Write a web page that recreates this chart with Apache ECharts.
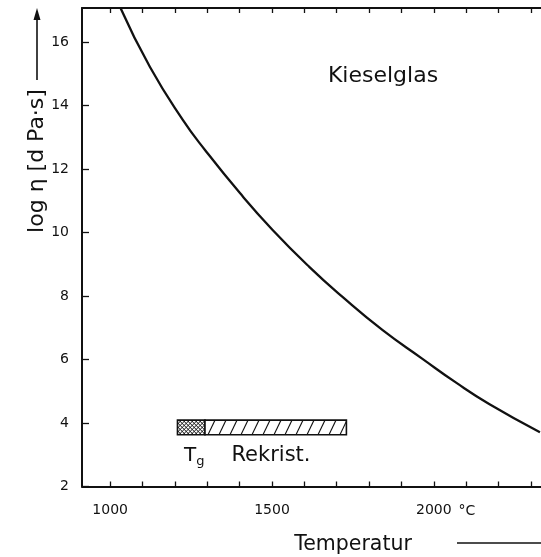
<!DOCTYPE html>
<html><head><meta charset="utf-8">
<script src="https://cdn.jsdelivr.net/npm/echarts@6/dist/echarts.min.js"></script>
<style>html,body{margin:0;padding:0;background:#fff}#c{width:541px;height:557px}</style>
</head><body><div id="c"></div>
<script>
// Viscosity curve of Kieselglas
const temperature  = [1032, 1123, 1225, 1293, 1401, 1502, 1616, 1718, 1841, 1965, 2069, 2171, 2328];
const logViscosity = [17.07, 15.21, 13.54, 12.6, 11.24, 10.08, 8.91, 7.97, 6.93, 6.02, 5.27, 4.6, 3.71];
// Ranges drawn as boxes: [T start, T end, log eta low, log eta high]
const rangeNames = ['Tg', 'Rekrist.'];
const rangeStart = [1208, 1293];
const rangeEnd   = [1293, 1730];
const rangeLow   = [3.63, 3.63];
const rangeHigh  = [4.09, 4.09];
// Axes
const xMin = 913, xMax = 2390;
const yMin = 2, yMax = 17.07;
const xTicks = [1000, 1100, 1200, 1300, 1400, 1500, 1600, 1700, 1800, 1900, 2000, 2100, 2200, 2300];
const xLabels = [1000, 1500, 2000];
const yTicks = [2, 4, 6, 8, 10, 12, 14, 16];

const FONT = 'DejaVu Sans';
const chart = echarts.init(document.getElementById('c'), null, {renderer: 'canvas'});

const curve = temperature.map((t, i) => [t, logViscosity[i]]);
const ranges = rangeNames.map((n, i) => [rangeStart[i], rangeEnd[i], rangeLow[i], rangeHigh[i]]);

function renderBox(params, api) {
  const p0 = api.coord([api.value(0), api.value(3)]);
  const p1 = api.coord([api.value(1), api.value(2)]);
  const x = p0[0], y = p0[1], w = p1[0] - p0[0], h = p1[1] - p0[1];
  const lines = [];
  const ls = {stroke: '#111', lineWidth: 1};
  if (params.dataIndex === 0) {
    for (let xs = x - h; xs < x + w + h; xs += 4) {
      lines.push({type: 'line', shape: {x1: xs, y1: y + h, x2: xs + h, y2: y}, style: ls});
      lines.push({type: 'line', shape: {x1: xs, y1: y, x2: xs + h, y2: y + h}, style: ls});
    }
  } else {
    for (let xs = x - 8; xs < x + w + 8; xs += 11) {
      lines.push({type: 'line', shape: {x1: xs, y1: y + h, x2: xs + 7, y2: y}, style: {stroke: '#111', lineWidth: 1.1}});
    }
  }
  return {
    type: 'group',
    children: [
      {type: 'rect', shape: {x, y, width: w, height: h}, style: {fill: '#fff'}},
      {type: 'group', children: lines, clipPath: {type: 'rect', shape: {x, y, width: w, height: h}}},
      {type: 'rect', shape: {x, y, width: w, height: h}, style: {fill: null, stroke: '#111', lineWidth: 1.6}}
    ]
  };
}

const axisCommon = {
  type: 'value',
  axisLine: {show: true, onZero: false, lineStyle: {color: '#111', width: 2}},
  splitLine: {show: false}
};

chart.setOption({
  animation: false,
  backgroundColor: '#fff',
  grid: {left: 82, width: 478, top: 8, height: 478.5, containLabel: false, outerBoundsMode: 'none'},
  xAxis: [
    Object.assign({}, axisCommon, {
      min: xMin, max: xMax, position: 'bottom',
      axisTick: {show: true, inside: true, length: 5, lineStyle: {color: '#111', width: 1.3}, customValues: xTicks},
      axisLabel: {show: true, customValues: xLabels, margin: 17, color: '#111', fontFamily: FONT, fontSize: 14,
        formatter: v => String(v)}
    }),
    Object.assign({}, axisCommon, {
      min: xMin, max: xMax, position: 'top',
      axisTick: {show: true, inside: true, length: 5, lineStyle: {color: '#111', width: 1.3}, customValues: xTicks},
      axisLabel: {show: false}
    })
  ],
  yAxis: [
    Object.assign({}, axisCommon, {
      min: yMin, max: yMax, position: 'left',
      axisTick: {show: true, inside: true, length: 7, lineStyle: {color: '#111', width: 1.3}, customValues: yTicks},
      axisLabel: {show: true, customValues: yTicks, margin: 13, color: '#111', fontFamily: FONT, fontSize: 14,
        formatter: v => String(v)}
    })
  ],
  series: [
    {type: 'line', data: curve, smooth: true, symbol: 'none', clip: true,
     lineStyle: {color: '#111', width: 2.3}},
    {type: 'custom', data: ranges, renderItem: renderBox, clip: false, z: 3}
  ],
  graphic: [
    {type: 'text', x: 383, y: 76, style: {text: 'Kieselglas', font: '22px "' + FONT + '"', fill: '#111', textAlign: 'center', textVerticalAlign: 'middle'}},
    {type: 'text', x: 184, y: 456, style: {text: '{t|T}{s|g}', fill: '#111', textVerticalAlign: 'middle',
      rich: {t: {fontFamily: FONT, fontSize: 20, fill: '#111'}, s: {fontFamily: FONT, fontSize: 13, fill: '#111', padding: [12, 0, 0, 0]}}}},
    {type: 'text', x: 271, y: 456, style: {text: 'Rekrist.', font: '21px "' + FONT + '"', fill: '#111', textAlign: 'center', textVerticalAlign: 'middle'}},
    {type: 'text', x: 467, y: 511, style: {text: '°C', font: '14px "' + FONT + '"', fill: '#111', textAlign: 'center', textVerticalAlign: 'middle'}},
    {type: 'text', x: 353, y: 545, style: {text: 'Temperatur', font: '20.5px "' + FONT + '"', fill: '#111', textAlign: 'center', textVerticalAlign: 'middle'}},
    {type: 'line', shape: {x1: 457, y1: 543, x2: 545, y2: 543}, style: {stroke: '#111', lineWidth: 1.6}},
    {type: 'text', x: 37, y: 161, rotation: Math.PI / 2, style: {text: 'log η [d Pa·s]', font: '22px "' + FONT + '"', fill: '#111', textAlign: 'center', textVerticalAlign: 'middle'}},
    {type: 'line', shape: {x1: 37, y1: 80, x2: 37, y2: 18}, style: {stroke: '#111', lineWidth: 1.6}},
    {type: 'polygon', shape: {points: [[37, 8], [33.5, 20], [40.5, 20]]}, style: {fill: '#111'}}
  ]
});
</script></body></html>
